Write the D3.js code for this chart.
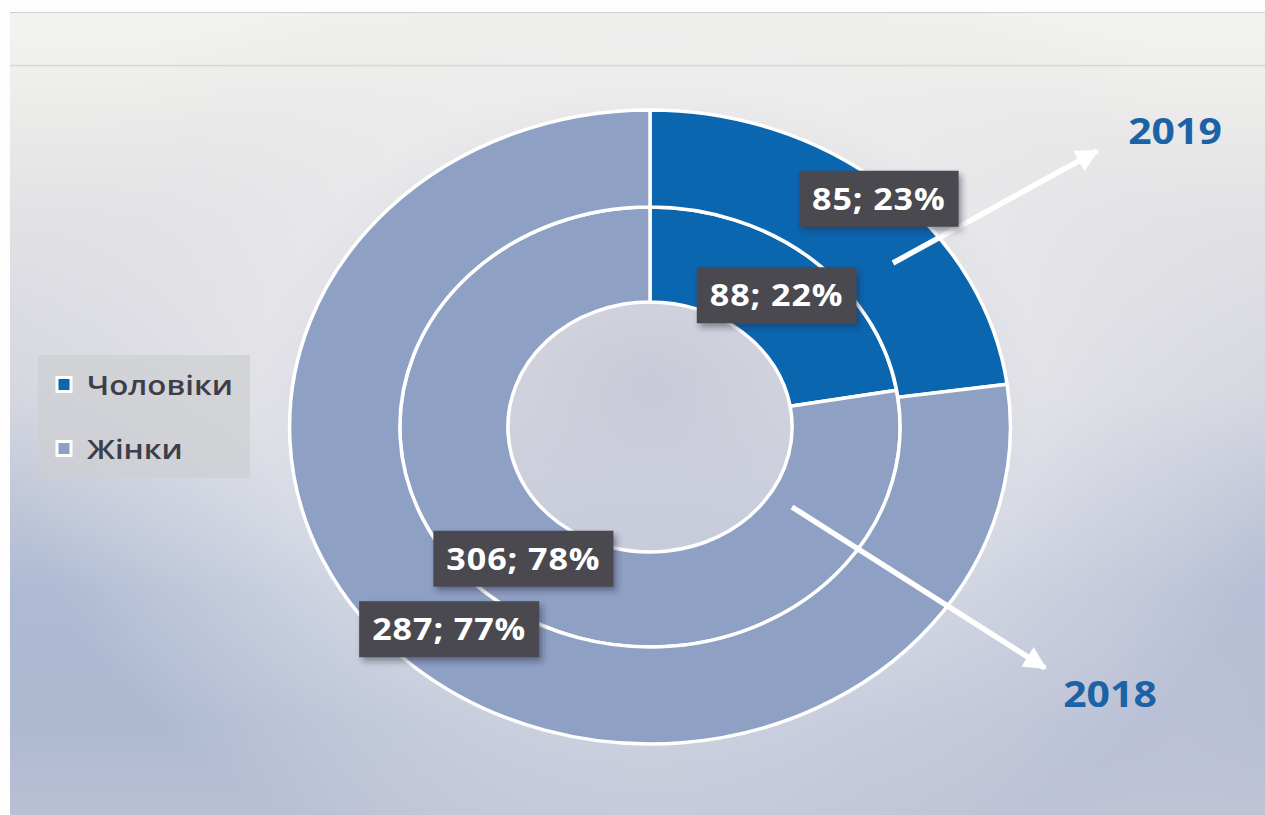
<!DOCTYPE html>
<html><head><meta charset="utf-8">
<script src="https://cdn.jsdelivr.net/npm/d3@7"></script>
<style>body{margin:0;background:#fff}svg{display:block}</style></head>
<body>
<svg id="c" width="1265" height="815"></svg>
<script>
// ---- data ----
const categories = ["Чоловіки", "Жінки"];
const ringYears = ["2018", "2019"];          // inner ring, outer ring
const values2018 = [88, 306];
const values2019 = [85, 287];
const percents2018 = [22, 78];
const percents2019 = [23, 77];
const colors = ["#0b66b0", "#8fa0c5"];

// ---- layout ----
const W = 1265, H = 815;
const cx = 650, cy = 427, sx = 1.137;
const rHole = 125, rMid = 220, rOuter = 317;

const svg = d3.select("#c");
const defs = svg.append("defs");

// background gradients
const lg = defs.append("linearGradient").attr("id", "bgLin").attr("x1", 0).attr("y1", 0).attr("x2", 0).attr("y2", 1);
[[0, "#f3f3ef"], [0.07, "#efefeb"], [0.25, "#e2e2e5"], [0.48, "#d4d6df"], [0.72, "#aebad3"], [0.88, "#adb8d1"], [1, "#b9c0d4"]]
  .forEach(([o, c]) => lg.append("stop").attr("offset", o).attr("stop-color", c));
const rgBR = defs.append("radialGradient").attr("id", "bgBR")
  .attr("gradientUnits", "userSpaceOnUse").attr("cx", 1180).attr("cy", 720).attr("r", 330);
[[0, "#c4c6d8", 0.6], [0.6, "#c6c8da", 0.3], [1, "#c6c8da", 0]]
  .forEach(([o, c, op]) => rgBR.append("stop").attr("offset", o).attr("stop-color", c).attr("stop-opacity", op));
const rg = defs.append("radialGradient").attr("id", "bgRad")
  .attr("gradientUnits", "userSpaceOnUse").attr("cx", cx).attr("cy", cy - 40).attr("r", 520)
  .attr("gradientTransform", `translate(${cx},${cy - 40}) scale(1.25,1) translate(${-cx},${-(cy - 40)})`);
[[0, "#c6c8d6", 0.9], [0.3, "#d2d3de", 0.6], [0.6, "#ececee", 0.55], [0.85, "#e6e6ea", 0.25], [1, "#e6e6ea", 0]]
  .forEach(([o, c, op]) => rg.append("stop").attr("offset", o).attr("stop-color", c).attr("stop-opacity", op));

const f = defs.append("filter").attr("id", "sh").attr("x", "-20%").attr("y", "-30%").attr("width", "150%").attr("height", "180%");
f.append("feDropShadow").attr("dx", 3).attr("dy", 4).attr("stdDeviation", 3).attr("flood-color", "#20203a").attr("flood-opacity", 0.45);

defs.append("marker").attr("id", "ah").attr("viewBox", "0 0 10 10").attr("refX", 9).attr("refY", 5)
  .attr("markerWidth", 4.2).attr("markerHeight", 4.2).attr("orient", "auto")
  .append("path").attr("d", "M0,0 L10,5 L0,10 Z").attr("fill", "#ffffff");

// page background
svg.append("rect").attr("width", W).attr("height", H).attr("fill", "#fdfdfd");
svg.append("rect").attr("x", 10).attr("y", 12).attr("width", W - 10).attr("height", H - 12).attr("fill", "url(#bgLin)");
svg.append("rect").attr("x", 10).attr("y", 12).attr("width", W - 10).attr("height", H - 12).attr("fill", "url(#bgBR)");
svg.append("rect").attr("x", 10).attr("y", 12).attr("width", W - 10).attr("height", H - 12).attr("fill", "url(#bgRad)");
svg.append("line").attr("x1", 10).attr("x2", W).attr("y1", 12.5).attr("y2", 12.5).attr("stroke", "#cfcfcf").attr("stroke-width", 1);
svg.append("line").attr("x1", 10).attr("x2", W).attr("y1", 65.5).attr("y2", 65.5).attr("stroke", "#d6d6d2").attr("stroke-width", 1.5);

// ---- donut ----
const pie = d3.pie().sort(null).value(d => d);
const rings = [
  { year: "2018", values: values2018, pct: percents2018, r0: rHole, r1: rMid },
  { year: "2019", values: values2019, pct: percents2019, r0: rMid, r1: rOuter }
];
const gD = svg.append("g").attr("transform", `translate(${cx},${cy}) scale(${sx},1)`);
rings.forEach(ring => {
  const arc = d3.arc().innerRadius(ring.r0).outerRadius(ring.r1);
  ring.arc = arc;
  ring.slices = pie(ring.values);
  gD.selectAll(null).data(ring.slices).enter().append("path")
    .attr("d", arc)
    .attr("fill", (d, i) => colors[i])
    .attr("stroke", "#ffffff").attr("stroke-width", 3.5)
    .attr("vector-effect", "non-scaling-stroke");
});

// ---- arrows ----
const arrows = [
  { from: [893, 263], to: [1097, 151] },
  { from: [792, 507], to: [1045, 668] }
];
svg.selectAll(null).data(arrows).enter().append("line")
  .attr("x1", d => d.from[0]).attr("y1", d => d.from[1])
  .attr("x2", d => d.to[0]).attr("y2", d => d.to[1])
  .attr("stroke", "#ffffff").attr("stroke-width", 5.5)
  .attr("marker-end", "url(#ah)");

// ---- data labels ----
const labelOffsets = { "2019-0": [28, -26] };
rings.forEach(ring => {
  ring.slices.forEach((s, i) => {
    const c = ring.arc.centroid(s);
    const off = labelOffsets[ring.year + "-" + i] || [0, 0];
    const x = cx + c[0] * sx + off[0], y = cy + c[1] + off[1];
    const g = svg.append("g").attr("transform", `translate(${x},${y})`);
    const box = g.append("rect").attr("fill", "#48484f").attr("filter", "url(#sh)");
    const tg = g.append("g").attr("transform", `scale(${sx},1)`);
    const t = tg.append("text").attr("text-anchor", "middle").attr("dy", "0.36em")
      .attr("font-family", "'Open Sans', sans-serif").attr("font-weight", 700)
      .attr("font-size", 30).attr("letter-spacing", 0.8).attr("fill", "#ffffff")
      .text(`${ring.values[i]}; ${ring.pct[i]}%`);
    const w = t.node().getComputedTextLength() * sx + 26, h = 56;
    box.attr("x", -w / 2).attr("y", -h / 2).attr("width", w).attr("height", h);
  });
});

// ---- ring year labels ----
const yearLabels = [
  { text: "2019", x: 1175, y: 131 },
  { text: "2018", x: 1110, y: 694 }
];
yearLabels.forEach(d => {
  svg.append("g").attr("transform", `translate(${d.x},${d.y}) scale(${sx},1)`)
    .append("text").attr("text-anchor", "middle").attr("dy", "0.36em")
    .attr("font-family", "'Open Sans', sans-serif").attr("font-weight", 700)
    .attr("font-size", 36).attr("fill", "#1b62a6").text(d.text);
});

// ---- legend ----
const lgG = svg.append("g").attr("transform", "translate(38,355)");
lgG.append("rect").attr("width", 212).attr("height", 123).attr("fill", "#cdced2").attr("opacity", 0.7);
categories.forEach((c, i) => {
  const y = 30 + i * 64;
  lgG.append("rect").attr("x", 19).attr("y", y - 7.5).attr("width", 14).attr("height", 14)
    .attr("fill", colors[i]).attr("stroke", "#ffffff").attr("stroke-width", 3);
  lgG.append("g").attr("transform", `translate(49,${y}) scale(${sx},1)`)
    .append("text").attr("dy", "0.36em")
    .attr("font-family", "'Open Sans', sans-serif").attr("font-weight", 600)
    .attr("font-size", 27.5).attr("fill", "#3e3e4a").text(c);
});
</script>
</body></html>
